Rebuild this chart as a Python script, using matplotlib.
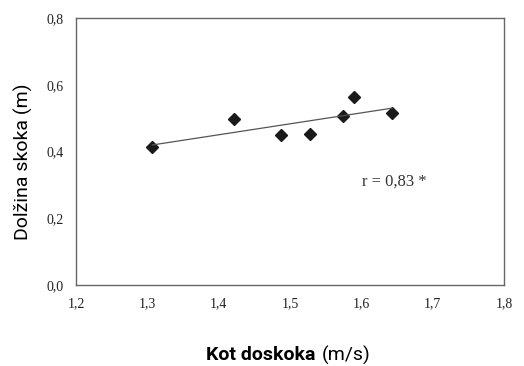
import numpy as np
import matplotlib
matplotlib.use("Agg")
import matplotlib.pyplot as plt

speed = [1.307, 1.422, 1.487, 1.528, 1.574, 1.590, 1.643]
jump = [0.414, 0.497, 0.449, 0.453, 0.507, 0.564, 0.517]
xticks = [1.2, 1.3, 1.4, 1.5, 1.6, 1.7, 1.8]
yticks = [0.0, 0.2, 0.4, 0.6, 0.8]

cond = "Roboto"

fig = plt.figure(figsize=(5.24, 3.66), dpi=100)
ax = fig.add_axes([76/524, 1-285/366, (504-76)/524, (285-18.3)/366])

ax.plot(speed, jump, linestyle="none", marker="D", markersize=6.5, color="#1a1a1a")
k, b = np.polyfit(speed, jump, 1)
xs = np.array([min(speed), max(speed)])
ax.plot(xs, k*xs + b, color="#555555", linewidth=0.9)

ax.set_xlim(1.2, 1.8)
ax.set_ylim(0, 0.8)
ax.set_xticks(xticks)
ax.set_yticks(yticks)
ax.set_xticklabels([f"{v:.1f}".replace(".", ",") for v in xticks], family="Liberation Serif", fontsize=10, color="#222222")
ax.set_yticklabels([f"{v:.1f}".replace(".", ",") for v in yticks], family="Liberation Serif", fontsize=10, color="#222222")
ax.tick_params(length=0, pad=9)
for s in ax.spines.values():
    s.set_color("#666666")
    s.set_linewidth(1.0)

ax.text(1.601, 0.309, "r = 0,83 *", family="Liberation Serif", fontsize=12, color="#333333", va="center", ha="left")

fig.text(23/524, 1-162/366, "Dolžina skoka (m)", rotation=90, family=cond, fontsize=14, ha="center", va="center")
fig.text(315/524, 1-355/366, "Kot doskoka", family=cond, fontweight="bold", fontsize=14, ha="right", va="center")
fig.text(322/524, 1-355/366, "(m/s)", family=cond, fontsize=14, ha="left", va="center")

fig.savefig("out.png", dpi=100)
